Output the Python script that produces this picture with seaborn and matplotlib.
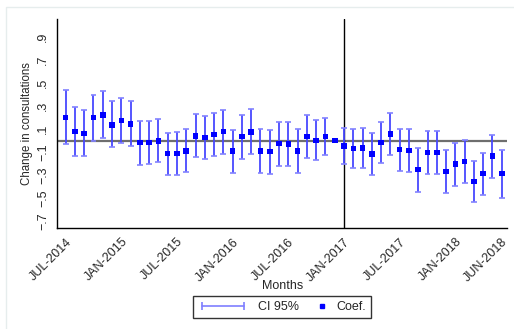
import matplotlib
matplotlib.use("Agg")
import matplotlib.pyplot as plt
import seaborn as sns
import pandas as pd
import numpy as np
from matplotlib.lines import Line2D
from matplotlib.legend_handler import HandlerLine2D
from matplotlib.patches import Rectangle

months = list(range(48))  # JUL-2014 ... JUN-2018
coef = [0.202, 0.078, 0.063, 0.199, 0.222, 0.138, 0.173, 0.144, -0.017, -0.014,
        -0.003, -0.112, -0.110, -0.087, 0.040, 0.026, 0.055, 0.078, -0.089, 0.035,
        0.075, -0.089, -0.095, -0.026, -0.029, -0.087, 0.035, 0.003, 0.037, 0.0,
        -0.046, -0.066, -0.061, -0.115, -0.017, 0.058, -0.078, -0.084, -0.251, -0.104,
        -0.104, -0.268, -0.202, -0.182, -0.355, -0.285, -0.133, -0.283]
ci_hi = [0.435, 0.288, 0.265, 0.395, 0.427, 0.340, 0.372, 0.340, 0.173, 0.173,
         0.185, 0.069, 0.075, 0.104, 0.228, 0.210, 0.239, 0.268, 0.095, 0.225,
         0.271, 0.098, 0.095, 0.164, 0.159, 0.101, 0.219, 0.176, 0.199, None,
         0.112, 0.104, 0.112, 0.063, 0.164, 0.242, 0.104, 0.101, -0.061, 0.081,
         0.081, -0.081, -0.017, 0.006, -0.173, -0.107, 0.052, -0.078]
ci_lo = [-0.032, -0.133, -0.136, 0.000, 0.026, -0.055, -0.023, -0.049, -0.208, -0.202,
         -0.187, -0.297, -0.297, -0.274, -0.144, -0.161, -0.130, -0.112, -0.280, -0.161,
         -0.118, -0.280, -0.285, -0.216, -0.216, -0.277, -0.153, -0.170, -0.127, None,
         -0.205, -0.239, -0.234, -0.294, -0.196, -0.127, -0.262, -0.271, -0.444, -0.288,
         -0.291, -0.456, -0.389, -0.369, -0.533, -0.470, -0.323, -0.493]
tick_pos = [0, 6, 12, 18, 24, 30, 36, 42, 47]
tick_labels = ["JUL-2014", "JAN-2015", "JUL-2015", "JAN-2016", "JUL-2016",
               "JAN-2017", "JUL-2017", "JAN-2018", "JUN-2018"]
ytick_vals = [0.9, 0.7, 0.5, 0.3, 0.1, -0.1, -0.3, -0.5, -0.7]
ytick_labels = [".9", ".7", ".5", ".3", ".1", "\u2212.1", "\u2212.3", "\u2212.5", "\u2212.7"]

df = pd.DataFrame({"month": months, "coef": coef,
                   "hi": pd.to_numeric(pd.Series(ci_hi), errors="coerce"),
                   "lo": pd.to_numeric(pd.Series(ci_lo), errors="coerce")})

sns.set_style("white")
plt.rcParams["font.family"] = ["Liberation Sans", "DejaVu Sans"]

fig = plt.figure(figsize=(5.14, 3.29), dpi=100)
fig.patches.append(Rectangle((6 / 514, -0.1), 1.2, 1 - 7 / 329 + 0.1,
                             transform=fig.transFigure, fill=False,
                             edgecolor="#e6eded", lw=1.0))
ax = fig.add_axes([57.3 / 514, 1 - 227.5 / 329, 450 / 514, 208.2 / 329])

ax.axhline(0, color="#6e6e6e", lw=1.6, zorder=1)
ax.axvline(30, color="black", lw=1.0, zorder=1)

d = df.dropna()
ax.vlines(d["month"], d["lo"], d["hi"], color="#4848ff", lw=1.3, zorder=2)
ax.hlines(d["hi"], d["month"] - 0.32, d["month"] + 0.32, color="#8282ff", lw=1.2, zorder=2)
ax.hlines(d["lo"], d["month"] - 0.32, d["month"] + 0.32, color="#8282ff", lw=1.2, zorder=2)

sns.scatterplot(data=df, x="month", y="coef", marker="s", s=16, color="#0000ff",
                edgecolor="none", linewidth=0, ax=ax, zorder=3)

ax.set_xlim(-0.9, 47.6)
ax.set_ylim(-0.751, 1.05)
ax.set_xticks(tick_pos)
ax.set_xticklabels(tick_labels, rotation=45, ha="right", rotation_mode="anchor", fontsize=9)
ax.set_yticks(ytick_vals)
ax.set_yticklabels(ytick_labels, rotation=90, va="center", fontsize=9)
ax.tick_params(axis="both", direction="out", length=4, width=0.8, color="black", pad=2)
for s in ["top", "right"]:
    ax.spines[s].set_visible(False)
for s in ["left", "bottom"]:
    ax.spines[s].set_color("black")
    ax.spines[s].set_linewidth(1.0)

ax.set_xlabel("Months", fontsize=9, labelpad=-3)
ax.set_ylabel("Change in consultations", fontsize=8.3, labelpad=3)


class RightMarkerHandler(HandlerLine2D):
    def create_artists(self, legend, orig_handle, xdescent, ydescent, width,
                       height, fontsize, trans):
        artists = super().create_artists(legend, orig_handle, xdescent, ydescent,
                                         width, height, fontsize, trans)
        for a in artists:
            if a.get_marker() not in (None, "None", ""):
                a.set_xdata([width - xdescent - 3])
        return artists


h_ci = Line2D([0, 1], [0, 0], color="#7f7fff", lw=1.2, marker="|", markersize=6,
              markeredgewidth=1.2)
h_coef = Line2D([0], [0], color="#0000ff", lw=0, marker="s", markersize=3.4)
leg = fig.legend([h_ci, h_coef], ["CI 95%", "Coef."], loc="center",
                 bbox_to_anchor=(282 / 514, 1 - 307 / 329), ncol=2, frameon=True,
                 fancybox=False, edgecolor="black", fontsize=9, handlelength=4,
                 handletextpad=0.8, columnspacing=-1.8, borderpad=0.4,
                 handler_map={h_ci: HandlerLine2D(numpoints=2),
                              h_coef: RightMarkerHandler(numpoints=1)})
leg.get_frame().set_linewidth(1.0)

fig.savefig("out.png", dpi=100)
